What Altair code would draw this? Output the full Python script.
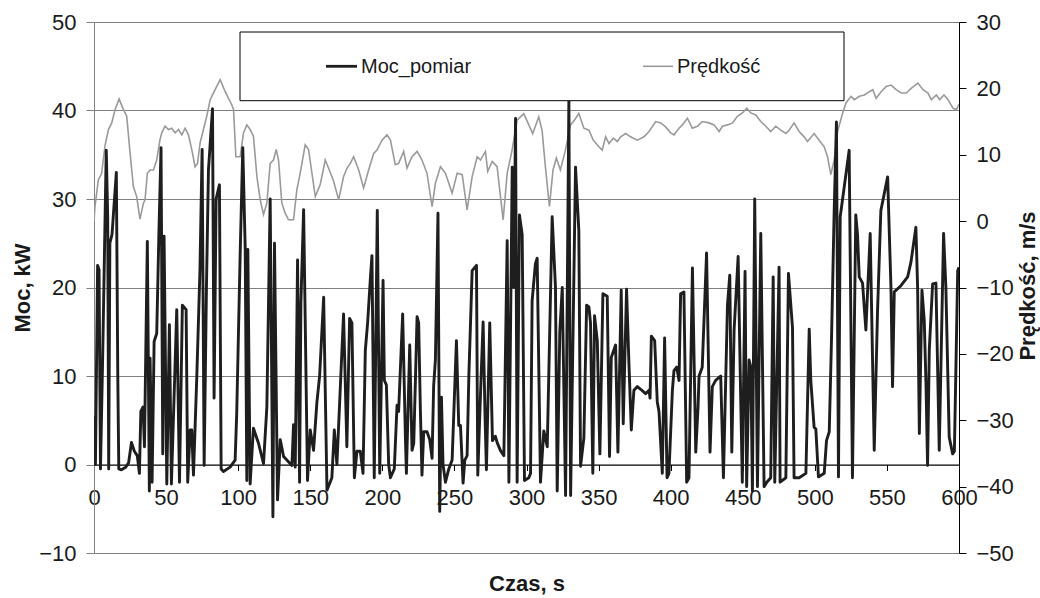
import altair as alt
import pandas as pd

# ---------------- data ----------------
power_t = [0, 1, 2.5, 3.5, 4.5, 6, 8.5, 9.5, 10.2, 11, 12.5, 15.5, 16.5, 17.2, 19, 22, 24, 26, 28, 30,
           31.5, 32.5, 34, 35, 37, 38.4, 38.9, 40.3, 41.7, 43.5, 45, 46.5, 47.7, 48.6, 50.5, 52.3, 53.7,
           57.4, 59.3, 61.3, 63.9, 65, 66.7, 67.8, 69, 71.3, 73.5, 75, 76.4, 78, 79.4, 82.2, 83.3, 84.7,
           87, 88.2, 89.8, 94.4, 97.9, 99, 101.4, 103.2, 104.9, 106, 106.7, 108.3, 110.6, 114.1, 117.6,
           119.9, 122.2, 124.1, 125.2, 127.3, 129.2, 131.5, 137.3, 138.4, 139.6, 141.2, 142.6, 143.5,
           145.4, 148.1, 150, 152.3, 154.6, 156.5, 159.3, 161.6, 165, 166.7, 168.5, 173.1, 175.4, 177.3,
           178.9, 180.6, 182.4, 184.7, 186.6, 188.2, 189.8, 191.7, 192.8, 194.4, 196.5, 198.2, 200.5,
           201.4, 202.8, 204.4, 205.6, 208.3, 210.2, 211.3, 214.1, 216, 216.7, 219, 220.6, 221.8, 224.1,
           225.2, 226.4, 227.5, 228.7, 231, 232.9, 234.5, 235.6, 236.8, 238.6, 239.8, 241, 242.1, 243.8,
           246.1, 248.4, 251.4, 253, 254.2, 256, 257.2, 258.8, 260, 262.3, 265.3, 266.2, 268.1, 269.9,
           271.3, 272.2, 274.5, 276.4, 278.4, 279.6, 281.9, 284.3, 286.6, 287.8, 290.1, 291.2, 292.4,
           293.5, 295.1, 297, 298.6, 301.6, 302.8, 303.9, 306.2, 307.4, 309.7, 312, 314.4, 317.8, 320.1,
           321.3, 323.1, 324.8, 327.1, 329.4, 330.6, 334, 336.3, 337.5, 339.8, 341.7, 343.3, 344.4, 346,
           347.2, 349.1, 350.9, 353, 356, 357.6, 358.8, 361.8, 363.4, 365.7, 367.1, 369.4, 371.1, 372.7,
           374.5, 376.9, 379.2, 382.6, 385, 385.7, 386.6, 388.9, 390.7, 391.9, 394.2, 395.8, 397.5,
           398.8, 401.2, 402.3, 404.2, 405.8, 406.9, 409.2, 411.1, 412.7, 415.1, 417.4, 419, 419.7,
           421.9, 424.9, 427.3, 428.9, 431.2, 434.7, 436.6, 439.4, 441, 442.4, 444, 446.8, 448.6, 449.7,
           451.6, 452.7, 454.4, 455.6, 456.7, 458.3, 460.2, 462.5, 464.8, 466.7, 469.4, 471.1, 472.2,
           475.2, 475.9, 479.9, 481.7, 484.5, 485.6, 489.1, 493.8, 496.1, 497.2, 499.5, 500.7, 502.5,
           506.5, 508.1, 510, 511.6, 513.4, 515, 516.4, 517.6, 523.8, 526.1, 528.4, 529.6, 530.8, 533.1,
           535.4, 538.4, 541.2, 543.5, 545.8, 550.5, 552.8, 553.9, 555.1, 559.7, 564.4, 566.7, 570.1,
           571.3, 572.5, 574.3, 575.9, 577.1, 578.2, 579.4, 581.7, 584, 586.3, 589.3, 590.9, 593.2,
           595.6, 596.8, 599.1, 600]
power_v = [5.5, 0.0, 22.5, 22.0, -0.5, 12.0, 35.5, 28.0, -0.5, 25.0, 26.0, 33.0, 10.0, -0.5, -0.6, -0.3,
           0.2, 2.5, 1.5, 1.0, -1.0, 6.0, 6.5, 2.0, 25.2, -3.0, 12.0, -2.0, 13.9, 14.8, 26.0, 35.8, 1.2,
           25.8, -2.2, 15.8, -2.2, 17.5, -2.0, 18.0, 17.5, -2.0, 3.9, 3.9, -1.2, 9.9, 22.0, 35.6, -0.1,
           20.0, 33.3, 40.2, 7.5, 30.0, 31.6, -0.5, -0.8, -0.3, 0.5, 5.8, 23.9, 35.8, 24.3, -1.8, 24.3,
           -2.2, 4.1, 2.4, 0.1, 6.5, 30.0, -5.9, 25.0, -4.0, 2.8, 0.9, -0.1, 4.5, -0.3, 23.1, -2.0, 18.2,
           28.8, -1.8, 3.9, 1.6, 7.0, 10.0, 18.9, -2.9, -1.5, 3.9, 0.0, 17.0, 2.0, 16.5, 16.0, -1.5, 1.5,
           1.5, -1.0, 12.9, 16.0, 21.0, 23.6, -1.5, 28.7, -1.0, 20.8, 9.5, 9.0, 0.0, -1.5, -0.5, 6.7,
           6.0, 17.0, 3.1, -1.0, 13.5, 1.6, 2.4, 16.7, 16.0, 6.1, -1.2, 3.7, 3.7, 2.8, 0.7, 8.9, 11.8,
           28.4, -5.3, 7.6, 0.0, -2.0, -0.5, 0.5, 14.0, 4.4, 4.4, -2.1, 0.5, 1.0, 9.9, 21.9, 22.5, -1.2,
           8.0, 16.1, 5.0, -0.6, 16.0, 2.7, 3.2, 2.5, 1.6, 1.0, 25.3, -2.0, 33.6, 20.0, 39.1, -2.0, 28.2,
           26.0, -1.8, -1.5, -1.0, 18.5, 22.7, 23.3, -2.0, 3.8, 2.0, 28.0, 20.0, -3.0, 15.0, 20.0, -3.5,
           41.2, -3.5, 33.6, 26.4, -0.2, 3.0, 18.0, 17.8, 16.0, -1.0, 16.8, 14.0, 1.2, 19.3, 19.0, 0.9,
           12.1, 13.5, 1.4, 19.7, 4.6, 19.8, 11.2, 3.9, 8.4, 8.8, 8.5, 8.0, 8.4, 7.5, 14.5, 14.0, 7.1,
           6.0, -1.0, 14.3, -1.5, -1.0, 8.4, 10.6, 11.0, 9.5, 19.3, 19.5, -2.0, -1.5, 22.2, 1.4, 6.5,
           10.0, 11.0, 23.9, 1.4, 8.8, 9.5, 10.0, -1.5, 18.0, 21.4, 1.4, 15.2, 23.5, 7.3, -2.0, 21.8,
           -2.5, 11.8, 11.0, -3.0, 30.0, -2.5, 26.1, -2.5, -2.0, -1.5, 21.2, -2.0, 22.3, -2.0, -1.5,
           21.6, 15.5, -1.5, -1.5, -1.0, 15.3, 9.5, 4.2, 4.0, -1.4, -1.0, 2.7, 3.7, 14.4, 28.5, 38.7,
           -1.4, 28.0, 35.5, -1.5, 28.2, 26.0, 21.2, 20.5, 15.2, 26.1, 1.6, 17.4, 28.7, 32.5, 20.0, 8.8,
           19.5, 20.2, 21.2, 22.9, 26.8, 20.0, 3.5, 19.7, 16.3, 9.1, -0.1, 13.0, 20.4, 20.5, 1.6, 26.1,
           20.0, 3.1, 1.2, 1.5, 21.9, 22.3]

speed_t = [0, 0.7, 3, 5.3, 7.6, 10, 12.3, 14.6, 17.4, 20.4, 22.7, 25, 27.3, 29.6, 31.9, 34.3, 35.4, 37,
           38.9, 41.2, 43.5, 45.8, 47, 49.3, 51.6, 53.9, 56.3, 58.6, 60.9, 63.2, 65.5, 67.8, 70.1, 71.8,
           73.6, 75.9, 78.2, 80.6, 83.3, 87.5, 91, 95.6, 96.8, 98.4, 101.4, 103.7, 106, 108.3, 110.6,
           113, 115.3, 117.6, 119.9, 122.2, 124.5, 126.4, 128, 130.3, 132.6, 134.9, 138.4, 140.7, 143,
           146.5, 148.8, 153.5, 156.9, 160.4, 162.7, 166.2, 169.7, 173.1, 175.5, 177.8, 180.1, 183.6,
           187, 190.5, 194, 196.3, 199.8, 203.2, 205.6, 209, 211.3, 214.8, 217.1, 220.6, 224.1, 227.5,
           231, 234.5, 236.8, 240.3, 243.8, 248.4, 251.9, 255.4, 258.8, 262.3, 265.8, 268.1, 271.5,
           273.1, 276.2, 279.6, 283.8, 286.6, 290, 293.5, 295.8, 298.1, 301.6, 304.3, 308.5, 310.8,
           313.1, 315.9, 318.4, 320.7, 323.5, 327, 330.5, 333.2, 336.3, 339.8, 343.3, 346.3, 350.2,
           352.5, 354.9, 357.2, 360.2, 363, 365.3, 368.8, 372.2, 376.9, 381.5, 385, 389.6, 393.1, 396.5,
           400, 402.3, 405.8, 408.1, 411.6, 415, 418.5, 421.9, 426.6, 430.1, 433.6, 435.9, 439.4, 442.9,
           446.3, 449.8, 452.8, 455.6, 459.1, 462.5, 466, 469.4, 472.9, 476.4, 479.9, 482.2, 485.6,
           489.1, 492.6, 494.9, 499.5, 503, 506.5, 508.8, 511.1, 513.4, 515.8, 519.3, 521.6, 525.1,
           527.4, 530.9, 534.4, 537.8, 540.2, 542.5, 546, 549.5, 552.9, 556.4, 559.9, 563.4, 566.8,
           571.5, 575, 578.5, 580.8, 584.3, 586.6, 589.6, 592.4, 595.9, 598.2, 600]
speed_v = [0, 2.2, 6.2, 7.2, 11.3, 13.8, 14.8, 16.8, 18.4, 16.8, 15.8, 10.3, 5.2, 3.7, 0.3, 2.7, 3.2, 7.2,
           7.7, 7.7, 9.2, 12.3, 13.3, 14.3, 13.8, 14, 13.3, 13.8, 13, 14, 13, 10.8, 8.2, 8.7, 11.8, 13.8,
           15.8, 18.3, 19.5, 21.3, 19.5, 17.5, 16.8, 9.7, 9.7, 13.3, 14.5, 13.8, 12.8, 6.7, 3.2, 1, 2.7,
           8.7, 9.2, 10.8, 9.2, 2.7, 1.2, 0.2, 0.2, 4.7, 7.2, 11.5, 10.8, 3.7, 5.5, 9.2, 8, 6, 3.2, 6.7,
           8, 8.7, 9.7, 7.7, 5, 7.7, 10.2, 10.7, 12.2, 13, 12.2, 8.5, 8.7, 10.5, 8, 9.7, 10.5, 9.2, 7.2,
           2.2, 5.7, 8.2, 7.2, 4.2, 7.2, 7, 1.7, 6.7, 9.7, 9.2, 10.5, 7.5, 9, 8.2, 0.2, 7.2, 10.7, 15.2,
           15.7, 16.2, 14.5, 13.2, 15.7, 13.7, 8.2, 2.2, 7.7, 9.5, 7.7, 10.7, 14.5, 15.2, 16.2, 14, 13.7,
           12.2, 11.2, 10.7, 12.7, 11.7, 12.5, 12, 12.7, 13.2, 12.7, 12.2, 12.7, 13.5, 15, 14.8, 14.2,
           13.3, 13, 14, 14.5, 15.5, 14, 14.3, 15, 14.8, 14.5, 13.5, 14.3, 14.5, 14.8, 15.8, 16.3, 17,
           16.3, 16, 15, 14.3, 13.5, 14.3, 13.7, 13.2, 13.7, 14.8, 13.5, 12.7, 12, 13.2, 12.2, 11.2, 9.7,
           7, 9.2, 13.5, 16.3, 17.8, 18.8, 18.3, 18.8, 19, 19.5, 19.8, 18.5, 19.5, 20.3, 20.5, 19.8,
           19.3, 19.3, 20, 20.8, 19.8, 19.3, 18.3, 19, 18.3, 19, 18.3, 17, 16.8, 17.6]

x_ticks = list(range(0, 601, 50))
power_ticks = list(range(-10, 51, 10))
speed_ticks = list(range(-50, 31, 10))
legend_labels = ["Moc_pomiar", "Prędkość"]
x_title = "Czas, s"
power_title = "Moc, kW"
speed_title = "Prędkość, m/s"

power_df = pd.DataFrame({"t": power_t, "p": power_v})
speed_df = pd.DataFrame({"t": speed_t, "v": speed_v})

FONT = "Liberation Sans"
TXT = "#1a1a1a"
W, H = 865, 531

x_axis = alt.Axis(
    values=x_ticks, title=x_title, offset=-88.5, grid=False,
    labelFontSize=22, labelFont=FONT, labelColor=TXT, labelFlush=False,
    labelPadding=17, tickSize=6, tickColor="#000000", domainColor="#000000",
    titleFont=FONT, titleFontSize=22, titleFontWeight="bold", titleColor=TXT,
    titleBaseline="alphabetic", titleY=126, titleX=W / 2,
)
x_scale = alt.Scale(domain=[0, 600], nice=False, zero=False)

speed_line = alt.Chart(speed_df).mark_line(
    color="#9a9a9a", strokeWidth=1.6, clip=True
).encode(
    x=alt.X("t:Q", scale=x_scale, axis=x_axis),
    y=alt.Y(
        "v:Q",
        scale=alt.Scale(domain=[-50, 30], nice=False, zero=False),
        axis=alt.Axis(
            orient="right", values=speed_ticks, grid=False, title=speed_title,
            labelFontSize=22, labelFont=FONT, labelColor=TXT, labelPadding=10,
            tickSize=7, tickColor="#000000", domainColor="#000000",
            titleFont=FONT, titleFontSize=22, titleFontWeight="bold", titleColor=TXT,
            titleAngle=270, titleBaseline="alphabetic", titleAlign="center",
            titleX=75, titleY=H / 2 - 2,
        ),
    ),
)

power_line = alt.Chart(power_df).mark_line(
    color="#1e1e1e", strokeWidth=2.9, strokeJoin="round", clip=True
).encode(
    x=alt.X("t:Q", scale=x_scale, axis=x_axis),
    y=alt.Y(
        "p:Q",
        scale=alt.Scale(domain=[-10, 50], nice=False, zero=False),
        axis=alt.Axis(
            orient="left", values=power_ticks, grid=True, gridColor="#808080",
            gridWidth=1, title=power_title,
            labelFontSize=22, labelFont=FONT, labelColor=TXT, labelPadding=10,
            tickSize=8, tickColor="#808080", domainColor="#808080",
            titleFont=FONT, titleFontSize=22, titleFontWeight="bold", titleColor=TXT,
            titleAngle=270, titleBaseline="alphabetic", titleAlign="center",
            titleX=-65, titleY=H / 2,
        ),
    ),
)

one = pd.DataFrame({"k": [0]})
legend_box = alt.Chart(one).mark_rect(
    fill="white", stroke="#000000", strokeWidth=1
).encode(x=alt.value(146), x2=alt.value(750), y=alt.value(10), y2=alt.value(78.7))

legend_sym1 = alt.Chart(one).mark_rule(color="#1e1e1e", strokeWidth=2.8).encode(
    x=alt.value(232), x2=alt.value(263), y=alt.value(44.3))
legend_sym2 = alt.Chart(one).mark_rule(color="#9a9a9a", strokeWidth=1.6).encode(
    x=alt.value(549), x2=alt.value(579), y=alt.value(44.3))

legend_txt1 = alt.Chart(pd.DataFrame({"label": [legend_labels[0]]})).mark_text(
    font=FONT, fontSize=20, color=TXT, align="left", baseline="alphabetic"
).encode(x=alt.value(267), y=alt.value(51.3), text="label:N")
legend_txt2 = alt.Chart(pd.DataFrame({"label": [legend_labels[1]]})).mark_text(
    font=FONT, fontSize=20, color=TXT, align="left", baseline="alphabetic"
).encode(x=alt.value(583), y=alt.value(51.3), text="label:N")

chart = alt.layer(
    speed_line, power_line, legend_box, legend_sym1, legend_sym2, legend_txt1, legend_txt2
).resolve_scale(
    y="independent"
).properties(
    width=W, height=H,
    autosize=alt.AutoSizeParams(type="none"),
    padding={"left": 94, "top": 22, "right": 1040 - 94 - W, "bottom": 598 - 22 - H},
    background="white",
).configure_view(stroke=None)

chart.save("out.html", embed_options={"renderer": "svg", "actions": False})
